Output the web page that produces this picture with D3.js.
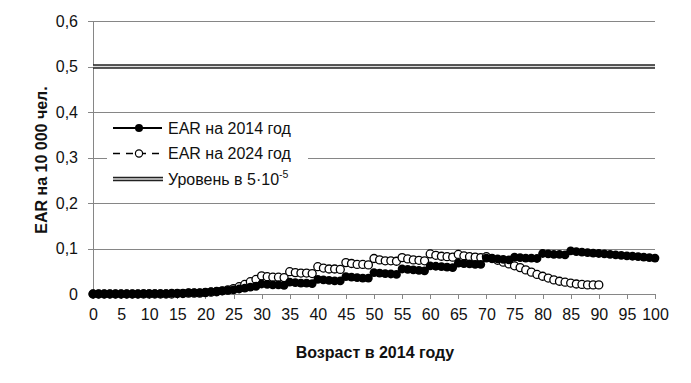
<!DOCTYPE html>
<html><head><meta charset="utf-8">
<script src="https://cdn.jsdelivr.net/npm/d3@7"></script>
<style>body{margin:0;background:#fff}svg{display:block}</style>
</head><body>
<svg id="c" width="691" height="383"></svg>
<script>
const ages2014 = d3.range(0, 101);
const ear2014 = [
  0,0,0,0,0,
  0,0,0,0,0.001,
  0.001,0.001,0.001,0.001,0.002,
  0.002,0.002,0.003,0.003,0.003,
  0.004,0.005,0.006,0.007,0.008,
  0.009,0.011,0.013,0.015,0.017,
  0.022,0.021,0.020,0.020,0.019,
  0.026,0.025,0.024,0.024,0.023,
  0.032,0.031,0.030,0.029,0.029,
  0.038,0.037,0.036,0.035,0.035,
  0.047,0.046,0.045,0.044,0.043,
  0.055,0.054,0.053,0.052,0.051,
  0.062,0.061,0.060,0.059,0.058,
  0.068,0.067,0.066,0.065,0.065,
  0.079,0.078,0.077,0.076,0.075,
  0.081,0.080,0.079,0.079,0.078,
  0.089,0.088,0.087,0.087,0.086,
  0.095,0.093,0.092,0.091,0.090,
  0.089,0.088,0.087,0.086,0.085,
  0.084,0.083,0.082,0.081,0.080,
  0.079
];
const ages2024 = d3.range(0, 91);
const ear2024 = [
  0,0,0,0,0,
  0,0,0,0,0,
  0,0,0,0,0,
  0.001,0.001,0.002,0.002,0.002,
  0.003,0.004,0.005,0.007,0.009,
  0.012,0.016,0.021,0.027,0.032,
  0.040,0.038,0.037,0.037,0.036,
  0.049,0.047,0.046,0.046,0.045,
  0.060,0.057,0.055,0.055,0.054,
  0.069,0.067,0.065,0.065,0.064,
  0.078,0.075,0.073,0.073,0.072,
  0.080,0.077,0.075,0.074,0.073,
  0.088,0.085,0.083,0.082,0.081,
  0.087,0.084,0.082,0.081,0.080,
  0.082,0.078,0.074,0.070,0.066,
  0.062,0.058,0.053,0.048,0.043,
  0.039,0.035,0.031,0.028,0.026,
  0.024,0.022,0.021,0.020,0.020,
  0.020
];
const levelValue = 0.5;
const xTicks = d3.range(0, 101, 5);
const yTicks = [0, 0.1, 0.2, 0.3, 0.4, 0.5, 0.6];
const yTickLabels = ["0", "0,1", "0,2", "0,3", "0,4", "0,5", "0,6"];
const seriesNames = ["EAR на 2014 год", "EAR на 2024 год", "Уровень в 5·10"];
const xTitle = "Возраст в 2014 году";
const yTitle = "EAR на 10 000 чел.";

const svg = d3.select("#c");
const L = 93, R = 655, T = 21, B = 294;
const x = d3.scaleLinear().domain([0, 100]).range([L, R]);
const y = d3.scaleLinear().domain([0, 0.6]).range([B, T]);
const grid = "#868686";
const font = "'Liberation Sans', Arial, sans-serif";

// gridlines + y axis
const yAxis = d3.axisLeft(y).tickValues(yTicks).tickSize(-(R - L)).tickPadding(15)
  .tickFormat((d, i) => yTickLabels[i]);
const gy = svg.append("g").attr("transform", `translate(${L},0)`).call(yAxis);
gy.select(".domain").remove();
gy.selectAll(".tick line").attr("stroke", grid).attr("x1", -5).attr("shape-rendering", "crispEdges");
gy.selectAll(".tick text").attr("font-family", font).attr("font-size", 16).attr("fill", "#111");
gy.selectAll(".tick").filter(d => d === 0).select("line").remove();
svg.append("line").attr("x1", L).attr("x2", L).attr("y1", T).attr("y2", B)
  .attr("stroke", grid).attr("shape-rendering", "crispEdges");

// x axis
const xAxis = d3.axisBottom(x).tickValues(xTicks).tickSize(5).tickPadding(10).tickFormat(d3.format("d"));
const gx = svg.append("g").attr("transform", `translate(0,${B})`).call(xAxis);
gx.select(".domain").attr("stroke", grid).attr("d", `M${L},0.5H${R}`);
gx.selectAll(".tick line").attr("stroke", grid).attr("shape-rendering", "crispEdges");
gx.selectAll(".tick text").attr("font-family", font).attr("font-size", 16).attr("fill", "#111");
gx.select(".domain").attr("shape-rendering", "crispEdges");

// level line (double)
svg.append("line").attr("x1", L).attr("x2", R).attr("y1", y(levelValue)).attr("y2", y(levelValue))
  .attr("stroke", "#222").attr("stroke-width", 4.5);
svg.append("line").attr("x1", L).attr("x2", R).attr("y1", y(levelValue)).attr("y2", y(levelValue))
  .attr("stroke", "#ddd").attr("stroke-width", 1.5);

// 2024 series
const line = d3.line().x(d => x(d[0])).y(d => y(d[1]));
const d2024 = ages2024.map((a, i) => [a, ear2024[i]]);
const d2014 = ages2014.map((a, i) => [a, ear2014[i]]);
svg.append("path").datum(d2024).attr("d", line).attr("fill", "none")
  .attr("stroke", "#000").attr("stroke-width", 1.5).attr("stroke-dasharray", "5,3");
svg.append("g").selectAll("circle").data(d2024).join("circle")
  .attr("cx", d => x(d[0])).attr("cy", d => y(d[1])).attr("r", 4)
  .attr("fill", "#fff").attr("stroke", "#000").attr("stroke-width", 1.3);
// 2014 series
svg.append("path").datum(d2014).attr("d", line).attr("fill", "none")
  .attr("stroke", "#000").attr("stroke-width", 2);
svg.append("g").selectAll("circle").data(d2014).join("circle")
  .attr("cx", d => x(d[0])).attr("cy", d => y(d[1])).attr("r", 4.4)
  .attr("fill", "#000");

// legend
const lg = svg.append("g");
lg.append("rect").attr("x", 107).attr("y", 114).attr("width", 201).attr("height", 78).attr("fill", "#fff");
const rows = [128, 153.5, 179];
lg.append("line").attr("x1", 113).attr("x2", 162).attr("y1", rows[0]).attr("y2", rows[0])
  .attr("stroke", "#000").attr("stroke-width", 2);
lg.append("circle").attr("cx", 139).attr("cy", rows[0]).attr("r", 4).attr("fill", "#000");
lg.append("line").attr("x1", 113).attr("x2", 162).attr("y1", rows[1]).attr("y2", rows[1])
  .attr("stroke", "#000").attr("stroke-width", 1.5).attr("stroke-dasharray", "7,6");
lg.append("circle").attr("cx", 139).attr("cy", rows[1]).attr("r", 3.6).attr("fill", "#fff")
  .attr("stroke", "#000").attr("stroke-width", 1.2);
lg.append("line").attr("x1", 113).attr("x2", 163).attr("y1", rows[2]).attr("y2", rows[2])
  .attr("stroke", "#222").attr("stroke-width", 4.5);
lg.append("line").attr("x1", 113).attr("x2", 163).attr("y1", rows[2]).attr("y2", rows[2])
  .attr("stroke", "#ddd").attr("stroke-width", 1.5);
rows.forEach((ry, i) => {
  const t = lg.append("text").attr("x", 168).attr("y", ry + 5.5)
    .attr("font-family", font).attr("font-size", 16).attr("fill", "#111").text(seriesNames[i]);
  if (i === 2) t.append("tspan").attr("dy", -7).attr("font-size", 10.5).text("-5");
});

// axis titles
svg.append("text").attr("x", 375).attr("y", 358).attr("text-anchor", "middle")
  .attr("font-family", font).attr("font-weight", "bold").attr("font-size", 16).attr("fill", "#111")
  .text(xTitle);
svg.append("text").attr("transform", "translate(47,160) rotate(-90)").attr("text-anchor", "middle")
  .attr("font-family", font).attr("font-weight", "bold").attr("font-size", 16).attr("fill", "#111")
  .text(yTitle);
</script>
</body></html>
